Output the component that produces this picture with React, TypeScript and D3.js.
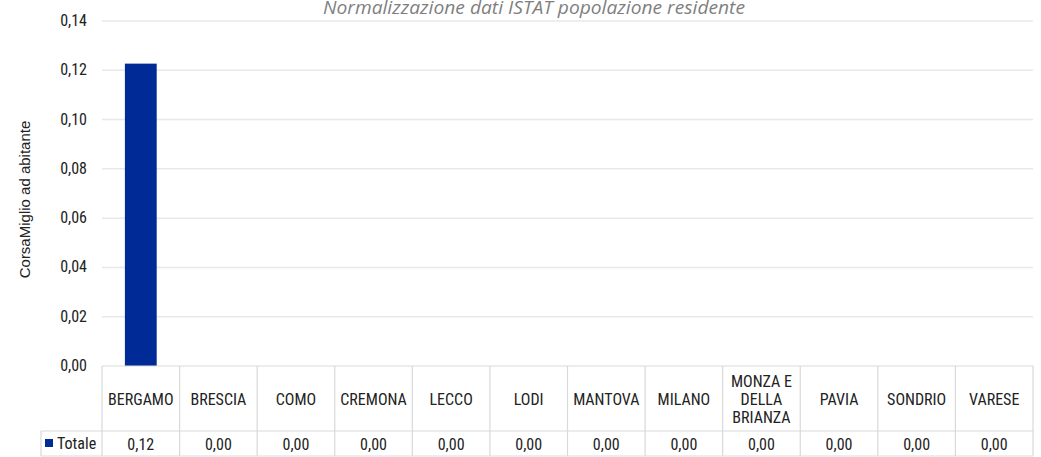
import React from 'react';
import * as d3 from 'd3';

const categories = [
  'BERGAMO',
  'BRESCIA',
  'COMO',
  'CREMONA',
  'LECCO',
  'LODI',
  'MANTOVA',
  'MILANO',
  'MONZA E DELLA BRIANZA',
  'PAVIA',
  'SONDRIO',
  'VARESE',
];
const totale = [0.1227, 0, 0, 0, 0, 0, 0, 0, 0, 0, 0, 0];
const yTicks = [0, 0.02, 0.04, 0.06, 0.08, 0.1, 0.12, 0.14];
const categoryLines: Record<string, string[]> = {
  'MONZA E DELLA BRIANZA': ['MONZA E', 'DELLA', 'BRIANZA'],
};

const W = 1041;
const H = 457;
const margin = { top: 21, left: 102, right: 1033, bottom: 366 };
const tableBottom = 456;
const rowSplit = 431;
const legendLeft = 41;
const narrow = '"Liberation Sans Narrow", "Roboto Condensed", "DejaVu Sans Condensed", sans-serif';
const comma = (v: number) => d3.format('.2f')(v).replace('.', ',');

export default function App() {
  const x = d3
    .scaleBand<string>()
    .domain(categories)
    .range([margin.left, margin.right])
    .paddingInner(0)
    .paddingOuter(0);
  const y = d3.scaleLinear().domain([0, 0.14]).range([margin.bottom, margin.top]);
  const barW = x.bandwidth() * 0.41;

  return (
    <svg
      width={W}
      height={H}
      style={{ position: 'absolute', left: 0, top: 0, background: '#fff' }}
    >
      <text
        x={323}
        y={14}
        textLength={422}
        lengthAdjust="spacingAndGlyphs"
        fontFamily='"Open Sans", sans-serif'
        fontStyle="italic"
        fontSize={18}
        fill="#7f7f7f"
      >
        Normalizzazione dati ISTAT popolazione residente
      </text>

      {yTicks.map((t) => (
        <g key={t}>
          {t > 0 && (
            <line
              x1={margin.left}
              x2={margin.right}
              y1={y(t)}
              y2={y(t)}
              stroke="#e8e8e8"
              strokeWidth={1.5}
            />
          )}
          <text
            x={87}
            y={y(t) + 5}
            textAnchor="end"
            fontFamily={narrow}
            fontSize={16}
            fill="#222"
          >
            {comma(t)}
          </text>
        </g>
      ))}

      <text
        transform={`translate(30, ${(margin.top + margin.bottom) / 2 + 6}) rotate(-90)`}
        textAnchor="middle"
        fontFamily='"Liberation Sans", Arial, sans-serif'
        fontSize={15}
        fill="#222"
      >
        CorsaMiglio ad abitante
      </text>

      {categories.map((c, i) => (
        <rect
          key={c}
          x={x(c)! + (x.bandwidth() - barW) / 2}
          y={y(totale[i])}
          width={barW}
          height={y(0) - y(totale[i])}
          fill="#002b96"
        />
      ))}

      {/* data table */}
      <g stroke="#d9d9d9" strokeWidth={1.2} fill="none">
        <line x1={margin.left} x2={margin.right} y1={margin.bottom} y2={margin.bottom} />
        <line x1={legendLeft} x2={margin.right} y1={rowSplit} y2={rowSplit} />
        <line x1={legendLeft} x2={margin.right} y1={tableBottom} y2={tableBottom} />
        <line x1={legendLeft} x2={legendLeft} y1={rowSplit} y2={tableBottom} />
        {categories.map((c) => (
          <line key={c} x1={x(c)!} x2={x(c)!} y1={margin.bottom} y2={tableBottom} />
        ))}
        <line x1={margin.right} x2={margin.right} y1={margin.bottom} y2={tableBottom} />
      </g>

      {categories.map((c, i) => {
        const lines = categoryLines[c] ?? [c];
        const cx = x(c)! + x.bandwidth() / 2;
        const cy = (margin.bottom + rowSplit) / 2;
        const lh = 18;
        return (
          <g key={c} fontFamily={narrow} fontSize={16} fill="#222" textAnchor="middle">
            {lines.map((l, j) => (
              <text key={l} x={cx} y={cy + (j - (lines.length - 1) / 2) * lh + 6}>
                {l}
              </text>
            ))}
            <text x={cx} y={(rowSplit + tableBottom) / 2 + 6}>
              {comma(totale[i])}
            </text>
          </g>
        );
      })}

      <rect x={45} y={439} width={8} height={8} fill="#002b96" />
      <text x={57} y={449} fontFamily={narrow} fontSize={16} fill="#222">
        Totale
      </text>
    </svg>
  );
}
